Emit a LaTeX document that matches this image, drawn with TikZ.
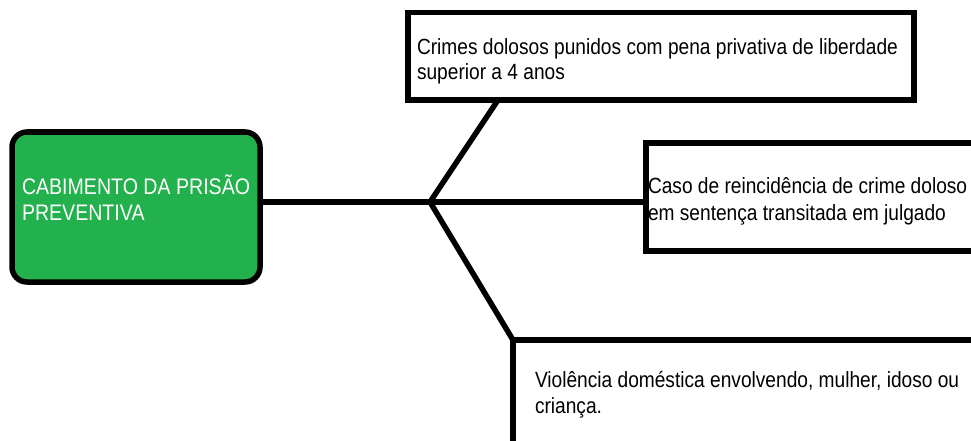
\documentclass[tikz,border=0pt]{standalone}
\usepackage{fontspec}
\setmainfont{Liberation Sans}[FakeStretch=0.87]
\definecolor{paintgreen}{HTML}{22B14C}
\tikzset{
  conn/.style={line width=5.5pt, line join=miter},
  boxstyle/.style={draw=black, line width=5.5pt, fill=white, inner sep=0pt, outer sep=0pt, anchor=north west, rectangle},
  greenbox/.style={boxstyle, fill=paintgreen, rounded corners=15pt},
  txt/.style={anchor=north west, inner sep=0pt, outer sep=0pt, align=left}
}
\begin{document}
\begin{tikzpicture}[x=1pt,y=-1pt]
\path[use as bounding box, fill=white] (0,0) rectangle (971,441);
% boxes
\node[greenbox, minimum width=248pt, minimum height=150pt] (g) at (12,132) {};
\node[boxstyle, minimum width=506pt, minimum height=87.5pt] (b1) at (408,12.5) {};
\node[boxstyle, minimum width=400pt, minimum height=108pt] (b2) at (646,143) {};
\node[boxstyle, minimum width=500pt, minimum height=150pt] (b3) at (513,340) {};
% connectors
\coordinate (br) at (430,202);
\draw[conn] (br -| g.east) -- (br -| b2.west);
\draw[conn] ([xshift=90pt]b1.south west) -- (br) -- (b3.north west);
% texts
\node[txt, text=white, font=\fontsize{22.5}{26}\selectfont] (t0) at (22,173)
  {\rule{0pt}{21pt}CABIMENTO DA PRISÃO\\PREVENTIVA};
\node[txt, font=\fontsize{22}{25}\selectfont] (t1) at (417,34)
  {\rule{0pt}{21pt}Crimes dolosos punidos com pena privativa de liberdade\\superior a 4 anos};
\node[txt, font=\fontsize{22}{27}\selectfont] (t2) at (648,172)
  {\rule{0pt}{21pt}Caso de reincidência de crime doloso\\em sentença transitada em julgado};
\node[txt, font=\fontsize{22}{26}\selectfont] (t3) at (535,366)
  {\rule{0pt}{21pt}Violência doméstica envolvendo, mulher, idoso ou\\criança.};
\end{tikzpicture}
\end{document}
